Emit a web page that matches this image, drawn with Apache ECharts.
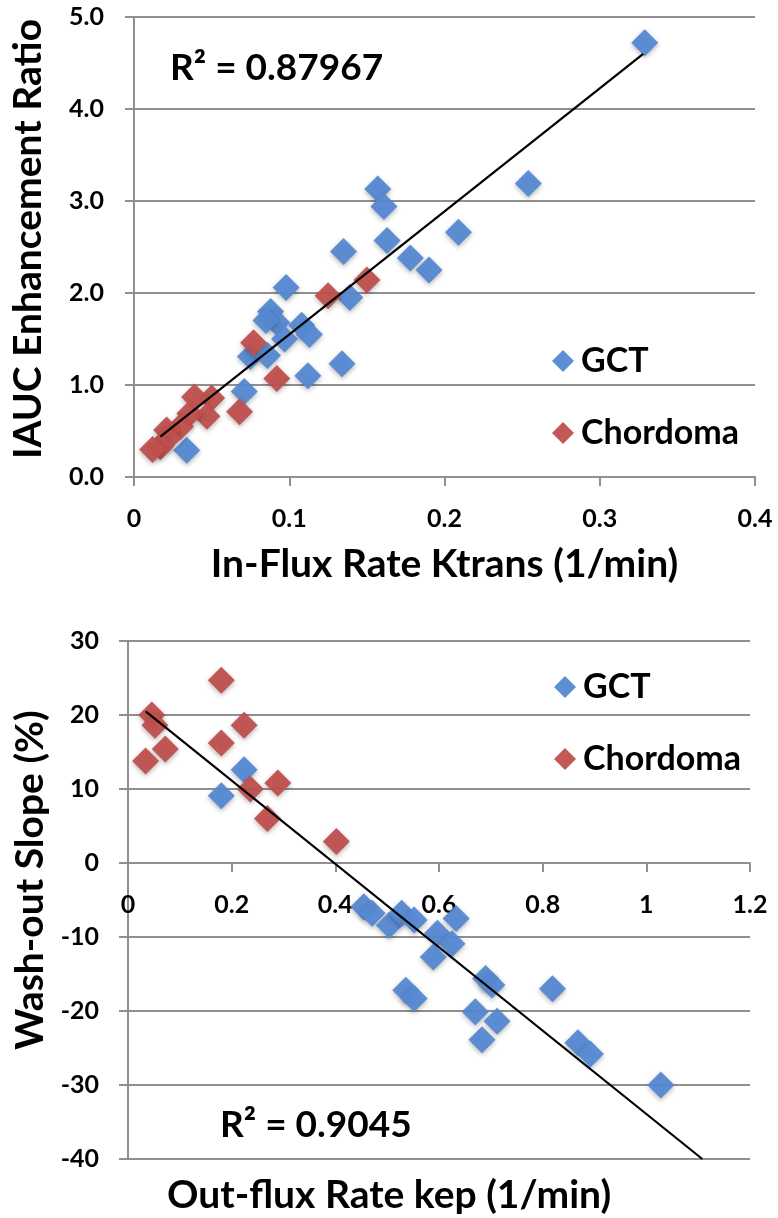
<!DOCTYPE html>
<html>
<head>
<meta charset="utf-8">
<script src="https://cdn.jsdelivr.net/npm/echarts@6/dist/echarts.min.js"></script>
<style>
html,body{margin:0;padding:0;background:#fff;}
#chart{width:778px;height:1218px;}
</style>
</head>
<body>
<div id="chart"></div>
<script>
// ---- Top chart: In-Flux Rate Ktrans vs IAUC Enhancement Ratio ----
const topGCT = [
  [0.329, 4.72], [0.254, 3.19], [0.157, 3.13], [0.161, 2.94], [0.209, 2.66],
  [0.163, 2.57], [0.135, 2.45], [0.178, 2.38], [0.190, 2.25], [0.139, 1.95],
  [0.098, 2.06], [0.088, 1.80], [0.092, 1.68], [0.085, 1.70], [0.108, 1.65],
  [0.113, 1.55], [0.075, 1.31], [0.086, 1.32], [0.097, 1.50], [0.134, 1.23],
  [0.112, 1.10], [0.071, 0.93], [0.034, 0.29]
];
const topChordoma = [
  [0.150, 2.14], [0.125, 1.97], [0.077, 1.46], [0.092, 1.07], [0.068, 0.71],
  [0.050, 0.86], [0.039, 0.87], [0.047, 0.66], [0.036, 0.69], [0.030, 0.55],
  [0.021, 0.51], [0.022, 0.42], [0.017, 0.33], [0.012, 0.30]
];
const topTrend = [[0.017, 0.44], [0.328, 4.60]];
const topR2 = 'R\u00B2 = 0.87967';
const topXName = 'In-Flux Rate Ktrans (1/min)';
const topYName = 'IAUC Enhancement Ratio';

// ---- Bottom chart: Out-flux Rate kep vs Wash-out Slope ----
const botGCT = [
  [0.224, 12.6], [0.180, 9.1], [0.455, -5.9], [0.471, -6.8], [0.504, -8.4],
  [0.528, -6.8], [0.552, -7.7], [0.633, -7.5], [0.597, -9.5], [0.625, -10.9],
  [0.589, -12.7], [0.536, -17.2], [0.552, -18.3], [0.690, -15.6], [0.702, -16.5],
  [0.819, -17.0], [0.670, -20.1], [0.712, -21.4], [0.683, -23.9], [0.868, -24.3],
  [0.892, -25.8], [1.028, -30.0]
];
const botChordoma = [
  [0.180, 24.7], [0.046, 20.0], [0.052, 18.6], [0.224, 18.6], [0.180, 16.2],
  [0.072, 15.4], [0.034, 13.8], [0.236, 10.0], [0.289, 10.8], [0.269, 6.0],
  [0.402, 2.9]
];
const botTrend = [[0.034, 20.5], [1.108, -40]];
const botR2 = 'R\u00B2 = 0.9045';
const botXName = 'Out-flux Rate kep (1/min)';
const botYName = 'Wash-out Slope (%)';

const seriesNames = ['GCT', 'Chordoma'];

const FONT = 'Lato, "Open Sans", sans-serif';
const BLUE = '#5589d2';
const RED = '#c0504d';
const GRIDC = '#909090';

const chart = echarts.init(document.getElementById('chart'), null, {renderer: 'canvas'});

function axisCommon() {
  return {
    axisLine: {show: true, lineStyle: {color: GRIDC, width: 2}},
    axisTick: {show: true, length: 9, lineStyle: {color: GRIDC, width: 2}},
    axisLabel: {color: '#000', fontFamily: FONT, fontWeight: 'bold', fontSize: 25},
    nameTextStyle: {color: '#000', fontFamily: FONT, fontWeight: 'bold', fontSize: 39},
  };
}

function scatterSeries(name, data, color, idx) {
  return {
    type: 'scatter', name: name, data: data,
    xAxisIndex: idx, yAxisIndex: idx,
    symbol: 'diamond', symbolSize: 27,
    itemStyle: {color: color, opacity: 0.95, shadowBlur: 5, shadowColor: 'rgba(0,0,0,0.3)', shadowOffsetY: 2},
    emphasis: {disabled: true}
  };
}

function trendSeries(data, idx) {
  return {
    type: 'line', data: data, xAxisIndex: idx, yAxisIndex: idx,
    symbol: 'none', z: 5, silent: true,
    lineStyle: {color: '#000', width: 2.2}
  };
}

const legendCommon = {
  orient: 'vertical', icon: 'diamond', itemWidth: 22, itemHeight: 22,
  itemGap: 38,
  textStyle: {color: '#000', fontFamily: FONT, fontWeight: 'bold', fontSize: 34, lineHeight: 34, padding: [0, 0, 0, 2]},
  selectedMode: false,
  data: seriesNames
};

const option = {
  animation: false,
  backgroundColor: '#fff',
  grid: [
    {left: 134, right: 23, top: 17, bottom: 741},
    {left: 128, right: 28, top: 641, bottom: 59}
  ],
  xAxis: [
    Object.assign(axisCommon(), {
      type: 'value', gridIndex: 0, min: 0, max: 0.4, interval: 0.1,
      splitLine: {show: false},
      name: topXName, nameLocation: 'middle', nameGap: 68,
      axisLabel: Object.assign(axisCommon().axisLabel, {margin: 29, formatter: v => String(+v.toFixed(1))})
    }),
    Object.assign(axisCommon(), {
      type: 'value', gridIndex: 1, min: 0, max: 1.2, interval: 0.2,
      splitLine: {show: false},
      position: 'bottom', offset: -296,
      axisLine: {show: true, onZero: false, lineStyle: {color: GRIDC, width: 2}},
      axisLabel: Object.assign(axisCommon().axisLabel, {margin: 29, formatter: v => String(+v.toFixed(1))})
    })
  ],
  yAxis: [
    Object.assign(axisCommon(), {
      type: 'value', gridIndex: 0, min: 0, max: 5, interval: 1,
      splitLine: {show: true, lineStyle: {color: GRIDC, width: 2}},
      name: topYName, nameLocation: 'middle', nameGap: 86, nameRotate: 90,
      nameTextStyle: Object.assign(axisCommon().nameTextStyle, {padding: [0, 0, 0, 16]}),
      axisLabel: Object.assign(axisCommon().axisLabel, {margin: 30, formatter: v => v.toFixed(1)})
    }),
    Object.assign(axisCommon(), {
      type: 'value', gridIndex: 1, min: -40, max: 30, interval: 10,
      splitLine: {show: true, lineStyle: {color: GRIDC, width: 2}},
      name: botYName, nameLocation: 'middle', nameGap: 78, nameRotate: 90,
      nameTextStyle: Object.assign(axisCommon().nameTextStyle, {padding: [0, 0, 0, 40]}),
      axisLabel: Object.assign(axisCommon().axisLabel, {margin: 29})
    })
  ],
  legend: [
    Object.assign({}, legendCommon, {left: 547, top: 339}),
    Object.assign({}, legendCommon, {left: 549, top: 665})
  ],
  series: [
    scatterSeries('GCT', topGCT, BLUE, 0),
    scatterSeries('Chordoma', topChordoma, RED, 0),
    trendSeries(topTrend, 0),
    scatterSeries('GCT', botGCT, BLUE, 1),
    scatterSeries('Chordoma', botChordoma, RED, 1),
    trendSeries(botTrend, 1)
  ],
  graphic: [
    {type: 'text', left: 170, top: 50, style: {text: topR2, font: 'bold 37px ' + FONT, fill: '#000'}},
    {type: 'text', left: 220, top: 1107, style: {text: botR2, font: 'bold 37px ' + FONT, fill: '#000'}},
    {type: 'text', left: 'center', top: 1176, style: {text: botXName, font: 'bold 39px ' + FONT, fill: '#000'}}
  ]
};
chart.setOption(option);
</script>
</body>
</html>
